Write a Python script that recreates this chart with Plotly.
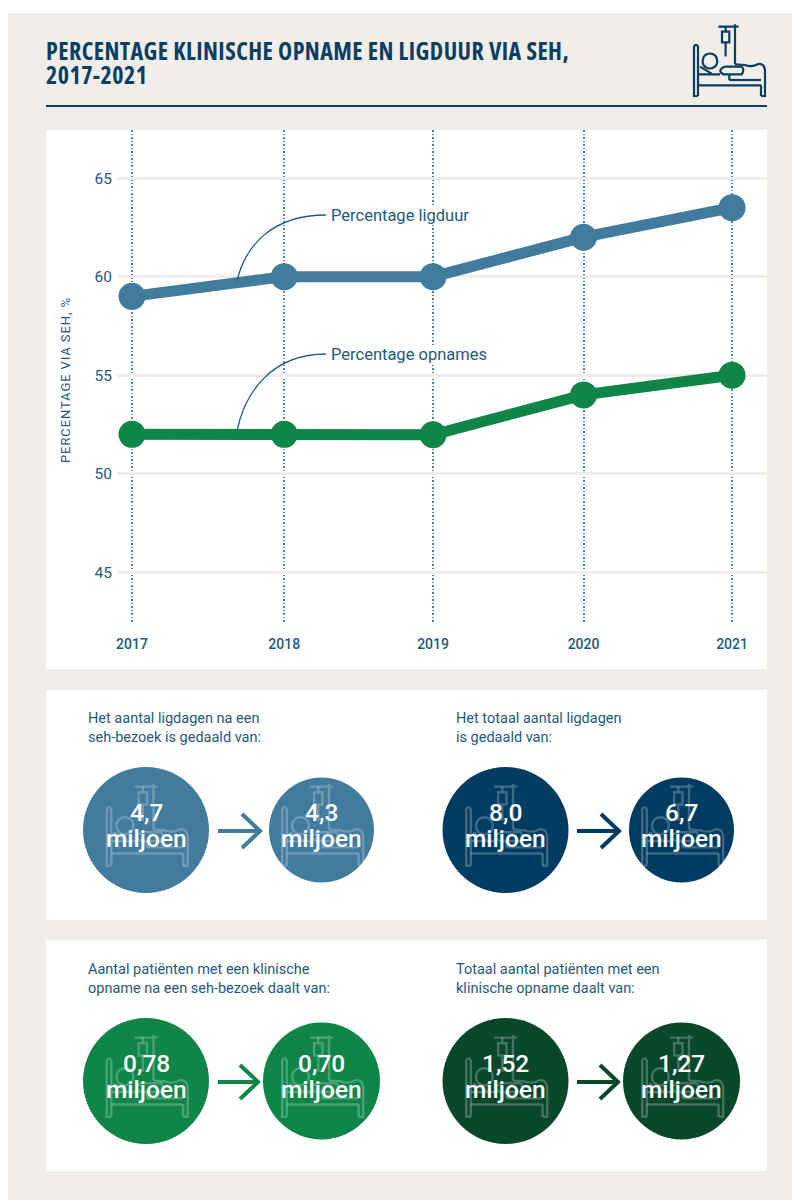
import plotly.graph_objects as go

# chart data
years = ['2017', '2018', '2019', '2020', '2021']
year_pos = [2017, 2018.015, 2019.007, 2020.01, 2021]
ligduur = [59, 60, 60, 62, 63.5]
opnames = [52, 52, 51.98, 54, 55]
y_ticks = [45, 50, 55, 60, 65]

# bubbles below the chart
bubble_labels = ['4,7', '4,3', '8,0', '6,7', '0,78', '0,70', '1,52', '1,27']
bubble_sizes = [126, 105, 126, 105, 126, 117, 126, 117]
bubble_x = [146, 321.5, 505.5, 681.5, 146, 321.5, 505.5, 681.5]
bubble_y = [830, 830, 830, 830, 1081, 1081, 1081, 1081]
bubble_colors = ['#417b9e', '#417b9e', '#003b62', '#003b62',
                 '#0f8548', '#0f8548', '#09472a', '#09472a']

captions = [
    ('Het aantal ligdagen na een', 88, 718), ('seh-bezoek is gedaald van:', 88, 737),
    ('Het totaal aantal ligdagen', 456, 718), ('is gedaald van:', 456, 737),
    ('Aantal patiënten met een klinische', 88, 969), ('opname na een seh-bezoek daalt van:', 88, 988),
    ('Totaal aantal patiënten met een', 456, 969), ('klinische opname daalt van:', 456, 988),
]
arrows = [(218, 260, 831, '#417b9e'), (577, 619, 831, '#003b62'),
          (218, 258, 1082, '#0f8548'), (577, 618, 1082, '#09472a')]

TEXT = '#1f5a7b'
DARK = '#0a3f61'
BEIGE = '#f1ede9'
LABEL_FONT = 'Roboto'
TITLE_FONT = 'Open Sans'
PAGE_W = 792
PAGE_H = 1200

def px(x):
    return x / PAGE_W

def py(y):
    return 1 - y / PAGE_H


def bed_paths(cx, cy, s):
    # icon drawn in its own 300x270 box, centred on 148,136
    def p(x, y):
        return f'{cx + (x - 148) * s:.1f},{cy + (y - 136) * s:.1f}'
    return [
        # headboard and frame
        f'M{p(54, 243)} L{p(42, 243)} L{p(42, 95)} Q{p(48, 84)} {p(54, 95)} L{p(54, 243)}',
        f'M{p(54, 211)} L{p(243, 211)}',
        f'M{p(243, 243)} L{p(255, 243)} L{p(255, 165)} Q{p(252, 145)} {p(235, 147)} '
        f'Q{p(215, 158)} {p(195, 150)} L{p(165, 148)}',
        f'M{p(243, 243)} L{p(243, 211)}',
        f'M{p(148, 195)} L{p(243, 195)}',
        # patient
        f'M{p(112, 138)} C{p(112, 108)} {p(68, 108)} {p(68, 138)} C{p(68, 168)} {p(112, 168)} {p(112, 138)}',
        f'M{p(55, 178)} L{p(120, 178)} M{p(60, 155)} L{p(95, 176)}',
        f'M{p(135, 155)} L{p(185, 155)} Q{p(195, 166)} {p(185, 178)} L{p(130, 178)} '
        f'Q{p(110, 166)} {p(135, 155)}',
        f'M{p(148, 178)} L{p(148, 195)}',
        # drip
        f'M{p(165, 28)} L{p(165, 148)} M{p(115, 35)} L{p(176, 35)}',
        f'M{p(137, 35)} L{p(137, 50)} M{p(126, 50)} L{p(148, 50)} L{p(148, 82)} L{p(126, 82)} Z '
        f'M{p(137, 82)} L{p(137, 125)}',
    ]


fig = go.Figure()

# page and panels
shapes = [dict(type='rect', xref='paper', yref='paper', layer='below', line_width=0, fillcolor=BEIGE,
               x0=px(8), x1=1, y0=py(13), y1=0)]
for top, bottom in [(130, 669), (690, 920), (940, 1171)]:
    shapes.append(dict(type='rect', xref='paper', yref='paper', layer='below', line_width=0, fillcolor='white',
                       x0=px(46), x1=px(767), y0=py(top), y1=py(bottom)))
shapes.append(dict(type='line', xref='x2', yref='y2', x0=46, x1=767, y0=106, y1=106,
                   line=dict(color=DARK, width=2)))

# the two lines
fig.add_trace(go.Scatter(x=year_pos, y=ligduur, mode='lines+markers',
                         line=dict(color='#417b9e', width=11),
                         marker=dict(color='#417b9e', size=27)))
fig.add_trace(go.Scatter(x=year_pos, y=opnames, mode='lines+markers',
                         line=dict(color='#0f8548', width=11),
                         marker=dict(color='#0f8548', size=27)))

# leader curves to the line labels
for d in ['M237,281 C245,246 272,215 326,215', 'M237,431 C245,392 272,354 326,354']:
    shapes.append(dict(type='path', xref='x2', yref='y2', path=d, line=dict(color=TEXT, width=1.3)))

# bubbles
fig.add_trace(go.Scatter(x=bubble_x, y=bubble_y, xaxis='x2', yaxis='y2', mode='markers',
                         marker=dict(color=bubble_colors, size=bubble_sizes, line_width=0, opacity=1)))

# bed icons
for d in bed_paths(729.3, 60.3, 1 / 3):
    shapes.append(dict(type='path', xref='x2', yref='y2', path=d, line=dict(color=DARK, width=2.2)))
for bx, by in zip(bubble_x, bubble_y):
    for d in bed_paths(bx + 1, by - 5, 0.38):
        shapes.append(dict(type='path', xref='x2', yref='y2', path=d,
                           line=dict(color='rgba(255,255,255,0.24)', width=2.4)))

# arrows
for x0, x1, y, color in arrows:
    head = f'M{x1 - 18},{y - 17} L{x1},{y} L{x1 - 18},{y + 17} M{x0},{y} L{x1},{y}'
    shapes.append(dict(type='path', xref='x2', yref='y2', path=head, line=dict(color=color, width=4)))

annotations = []


def add_text(x, y, text, size, color, weight=400, family=LABEL_FONT, anchor='left', **kw):
    annotations.append(dict(xref='x2', yref='y2', x=x, y=y, showarrow=False, xanchor=anchor,
                            text=text, yanchor='middle', borderpad=0, borderwidth=0,
                            font=dict(family=family, size=size, color=color, weight=weight),
                            **kw))


for text, y in [('PERCENTAGE KLINISCHE OPNAME EN LIGDUUR VIA SEH,', 50), ('2017-2021', 74)]:
    condensed = f'<span style="font-stretch:75%;letter-spacing:0.45px">{text}</span>'
    add_text(46, y, condensed, 24, DARK, 700, TITLE_FONT)
add_text(65, 380, '<span style="letter-spacing:0.9px">PERCENTAGE VIA SEH, %</span>', 13, TEXT,
         anchor='center', textangle=-90)
add_text(331, 215, 'Percentage ligduur', 16.5, TEXT, bgcolor='white')
add_text(331, 354, 'Percentage opnames', 16.5, TEXT, bgcolor='white')
for text, x, y in captions:
    add_text(x, y, text, 14.5, TEXT)
for label, x, y in zip(bubble_labels, bubble_x, bubble_y):
    add_text(x, y - 18, label, 24.5, 'white', 500, anchor='center')
    add_text(x, y + 8, 'miljoen', 24.5, 'white', 500, anchor='center')

fig.update_layout(
    width=PAGE_W,
    height=PAGE_H,
    margin=dict(l=0, r=0, t=0, b=0),
    paper_bgcolor='white',
    plot_bgcolor='rgba(0,0,0,0)',
    showlegend=False,
    hovermode=False,
    shapes=shapes,
    annotations=annotations,
    xaxis=dict(domain=[px(117), px(767)], range=[2016.9, 2021.233],
               tickvals=year_pos, ticktext=years, ticks='', ticklabelstandoff=12,
               tickfont=dict(family=LABEL_FONT, size=14, color=TEXT, weight=500),
               showgrid=True, gridcolor='#4a83a3', gridwidth=1.5, griddash='1.5px,2px',
               zeroline=False, showline=False),
    yaxis=dict(domain=[py(622), py(130)], range=[42.48, 67.44],
               tickvals=y_ticks, ticks='', ticklabelstandoff=4,
               tickfont=dict(family=LABEL_FONT, size=15.5, color=TEXT),
               showgrid=True, gridcolor=BEIGE, gridwidth=3, zeroline=False, showline=False),
    xaxis2=dict(domain=[0, 1], range=[0, PAGE_W], visible=False, anchor='y2'),
    yaxis2=dict(domain=[0, 1], range=[PAGE_H, 0], visible=False, anchor='x2'),
)

# the figure fills the window, so no body margin
fig.write_html("out.html", config=dict(displayModeBar=False),
               post_script="document.body.style.margin='0';")
